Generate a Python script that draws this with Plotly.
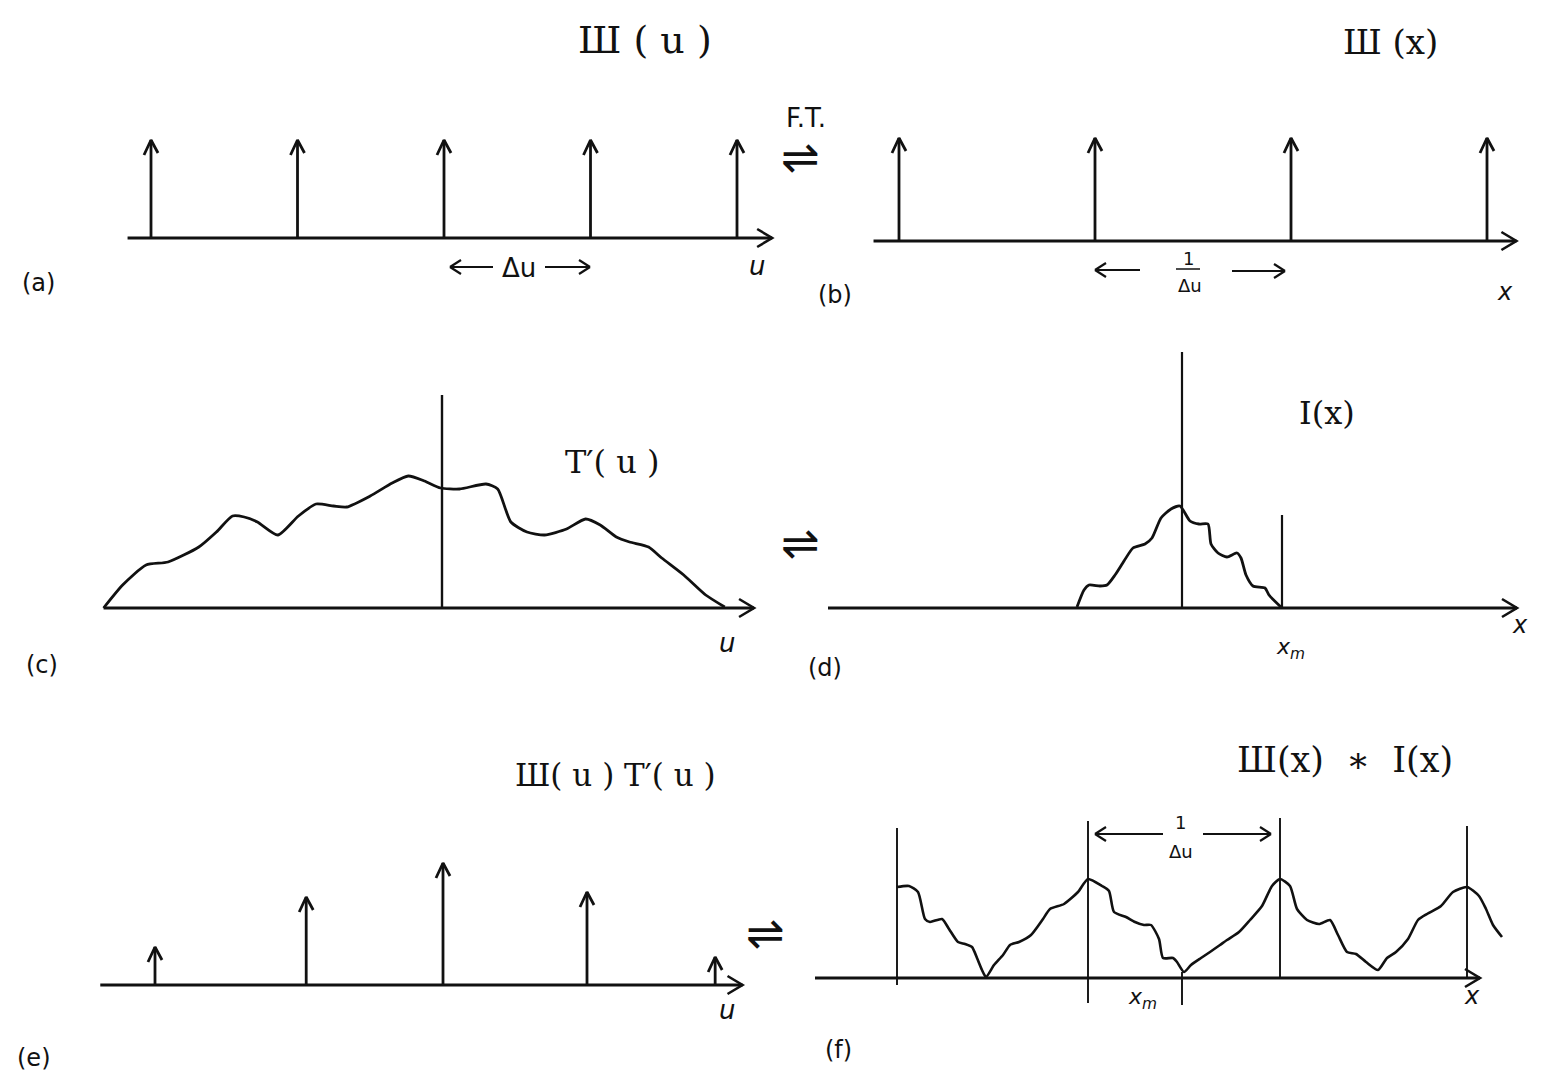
import plotly.graph_objects as go

W, H = 1549, 1076

# ---------------- data ----------------
# (a) comb III(u): positions in units of Δu, unit heights
comb_a_u = [-2, -1, 0, 1, 2]
comb_a_h = [1, 1, 1, 1, 1]

# (b) comb III(x): positions in units of 1/Δu
comb_b_x = [-1, 0, 1, 2]
comb_b_h = [1, 1, 1, 1]

# (c) spectrum T'(u)
t_u = [-2.31, -2.18, -2.02, -1.87, -1.66, -1.54, -1.43, -1.35, -1.26, -1.12,
       -0.98, -0.86, -0.74, -0.65, -0.49, -0.34, -0.23, -0.12, -0.01, 0.12,
       0.30, 0.38, 0.47, 0.58, 0.70, 0.85, 0.98, 1.08, 1.19, 1.28,
       1.41, 1.50, 1.65, 1.80, 1.93]
t_val = [0.00, 0.23, 0.43, 0.46, 0.61, 0.76, 0.92, 0.91, 0.86, 0.73,
         0.92, 1.04, 1.02, 1.01, 1.12, 1.25, 1.32, 1.27, 1.20, 1.19,
         1.24, 1.19, 0.86, 0.76, 0.73, 0.79, 0.89, 0.83, 0.71, 0.66,
         0.61, 0.50, 0.33, 0.13, 0.01]
c_axis_line_u = [0]
c_axis_line_h = [2.13]

# (d) interferogram I(x)
i_x = [-1.05, -0.98, -0.93, -0.82, -0.75, -0.67, -0.58, -0.49, -0.37, -0.30,
       -0.21, -0.11, -0.02, 0.08, 0.17, 0.26, 0.29, 0.36, 0.45, 0.55,
       0.59, 0.64, 0.71, 0.83, 0.87, 1.00]
i_val = [0.01, 0.18, 0.23, 0.22, 0.23, 0.33, 0.47, 0.60, 0.64, 0.70,
         0.90, 0.99, 1.02, 0.87, 0.84, 0.84, 0.64, 0.55, 0.51, 0.55,
         0.50, 0.33, 0.22, 0.20, 0.13, 0.00]
d_lines_x = [0, 1.0]
d_lines_h = [2.56, 0.93]

# (e) sampled spectrum III(u)T'(u)
comb_e_u = [-2.0, -0.95, 0, 1.0, 1.89]
comb_e_h = [0.38, 0.88, 1.22, 0.93, 0.28]

# (f) aliased interferogram III(x) * I(x)
f_x = [-1.91, -1.79, -1.70, -1.63, -1.58, -1.46, -1.39, -1.30, -1.23, -1.16,
       -1.11, -1.06, -1.02, -0.94, -0.85, -0.78, -0.69, -0.57, -0.45, -0.38,
       -0.24, -0.10, 0.00, 0.14, 0.21, 0.26, 0.38, 0.47, 0.56, 0.63,
       0.71, 0.75, 0.85, 0.89, 0.96, 1.03, 1.13, 1.22, 1.32, 1.39,
       1.51, 1.62, 1.74, 1.84, 1.92, 2.02, 2.09, 2.19, 2.31, 2.42,
       2.50, 2.59, 2.68, 2.78, 2.90, 2.99, 3.08, 3.20, 3.30, 3.39,
       3.53, 3.65, 3.79, 3.91, 3.98, 4.05, 4.14]
f_val = [0.91, 0.92, 0.86, 0.59, 0.56, 0.59, 0.49, 0.36, 0.34, 0.31,
         0.20, 0.08, 0.01, 0.13, 0.23, 0.33, 0.36, 0.43, 0.59, 0.69,
         0.74, 0.86, 0.99, 0.92, 0.87, 0.66, 0.61, 0.56, 0.53, 0.53,
         0.39, 0.20, 0.20, 0.16, 0.06, 0.13, 0.20, 0.26, 0.33, 0.38,
         0.46, 0.58, 0.72, 0.92, 0.99, 0.92, 0.69, 0.58, 0.54, 0.58,
         0.43, 0.26, 0.24, 0.16, 0.08, 0.20, 0.26, 0.39, 0.58, 0.64,
         0.72, 0.86, 0.91, 0.82, 0.69, 0.53, 0.41]
f_lines_x = [-1.91, 0, 1.92, 3.79]
f_lines_top = [1.50, 1.57, 1.60, 1.52]
f_lines_bottom = [-0.07, -0.25, 0.0, 0.0]
xm_tick_x = [0.94]
xm_tick_range = [-0.27, 0.06]

# ---------------- layout of the six panels (pixel boxes) ----------------
panels = {
    1: dict(box=(0, 0, 775, 310), origin=(444, 238), scale=(146.5, 98), axis=(-2.16, 2.24)),
    2: dict(box=(775, 0, 1549, 310), origin=(1095, 241), scale=(196, 103), axis=(-1.13, 2.15)),
    3: dict(box=(0, 310, 775, 690), origin=(442, 608), scale=(146.5, 100), axis=(-2.31, 2.13)),
    4: dict(box=(775, 310, 1549, 690), origin=(1182, 608), scale=(100, 100), axis=(-3.54, 3.35)),
    5: dict(box=(0, 690, 775, 1076), origin=(443, 985), scale=(144, 100), axis=(-2.38, 2.08)),
    6: dict(box=(775, 690, 1549, 1076), origin=(1088, 978), scale=(100, 100), axis=(-2.73, 3.92)),
}

fig = go.Figure()
INK = "#111111"


def ax_names(i):
    return ("x" if i == 1 else f"x{i}", "y" if i == 1 else f"y{i}")


layout_axes = {}
for i, p in panels.items():
    x0, y0, x1, y1 = p["box"]
    ox, oy = p["origin"]
    sx, sy = p["scale"]
    xa, ya = ax_names(i)
    layout_axes["xaxis" if i == 1 else f"xaxis{i}"] = dict(
        domain=[x0 / W, x1 / W], range=[(x0 - ox) / sx, (x1 - ox) / sx],
        visible=False, anchor=ya, fixedrange=True)
    layout_axes["yaxis" if i == 1 else f"yaxis{i}"] = dict(
        domain=[1 - y1 / H, 1 - y0 / H], range=[(oy - y1) / sy, (oy - y0) / sy],
        visible=False, anchor=xa, fixedrange=True)


def add_line(i, xs, ys, width=2.5, shape="linear"):
    xa, ya = ax_names(i)
    fig.add_trace(go.Scatter(x=xs, y=ys, mode="lines", xaxis=xa, yaxis=ya,
                             line=dict(color=INK, width=width, shape=shape,
                                       smoothing=0.6 if shape == "spline" else None),
                             showlegend=False, hoverinfo="skip"))


def add_axis(i, width=3.2):
    sx, sy = panels[i]["scale"]
    a0, a1 = panels[i]["axis"]
    add_line(i, [a0, a1], [0, 0], width=width)
    add_line(i, [a1 - 15 / sx, a1, a1 - 15 / sx], [9 / sy, 0, -9 / sy], width=width - 0.6)


def add_spikes(i, xs, hs, head=True, width=2.8, bottoms=None):
    sx, sy = panels[i]["scale"]
    lx, ly = [], []
    for k, (x, h) in enumerate(zip(xs, hs)):
        b = bottoms[k] if bottoms else 0
        lx += [x, x, None]
        ly += [b, h, None]
        if head:
            lx += [x - 7 / sx, x, x + 7 / sx, None]
            ly += [h - 15 / sy, h, h - 13 / sy, None]
    add_line(i, lx, ly, width=width)


# (a)
add_axis(1)
add_spikes(1, comb_a_u, comb_a_h)
# (b)
add_axis(2)
add_spikes(2, comb_b_x, comb_b_h)
# (c)
add_axis(3)
add_spikes(3, c_axis_line_u, c_axis_line_h, head=False, width=2.4)
add_line(3, t_u, t_val, width=2.8, shape="spline")
# (d)
add_axis(4)
add_spikes(4, d_lines_x, d_lines_h, head=False, width=2.2)
add_line(4, i_x, i_val, width=2.8, shape="spline")
# (e)
add_axis(5)
add_spikes(5, comb_e_u, comb_e_h)
# (f)
add_axis(6)
add_spikes(6, f_lines_x, f_lines_top, head=False, width=1.9, bottoms=f_lines_bottom)
add_spikes(6, xm_tick_x, [xm_tick_range[1]], head=False, width=1.9, bottoms=[xm_tick_range[0]])
add_line(6, f_x, f_val, width=2.6, shape="spline")

# ---------------- text and dimension arrows (pixel positions) ----------------
FONT = "DejaVu Sans"
MATH = "DejaVu Serif"
annotations = []


def label(text, x, y, size=24, italic=False, family=FONT):
    if italic:
        text = f"<i>{text}</i>"
    annotations.append(dict(text=text, x=x / W, y=1 - y / H, xref="paper", yref="paper",
                            showarrow=False, xanchor="center", yanchor="middle",
                            font=dict(family=family, size=size, color=INK)))


shapes = []


def seg(x0, y0, x1, y1, w=2.2):
    shapes.append(dict(type="line", xref="paper", yref="paper",
                       x0=x0 / W, y0=1 - y0 / H, x1=x1 / W, y1=1 - y1 / H,
                       line=dict(color=INK, width=w)))


def dim_arrow(tail, tip, y):
    seg(tail, y, tip, y)
    d = 11 if tip > tail else -11
    seg(tip - d, y - 7, tip, y)
    seg(tip - d, y + 7, tip, y)


# titles
label("Ш ( u )", 645, 40, size=38, family=MATH)
label("Ш (x)", 1390, 42, size=34, family=MATH)
label("F.T.", 806, 118, size=26)
label("⇌", 800, 157, size=46)
label("⇌", 800, 543, size=46)
label("⇌", 765, 933, size=46)

# (a)
dim_arrow(493, 450, 267)
dim_arrow(545, 590, 267)
label("Δu", 519, 268, size=26)
label("u", 757, 266, size=26, italic=True)
label("(a)", 38, 283, size=24)

# (b)
dim_arrow(1140, 1095, 270)
dim_arrow(1232, 1285, 271)
label("1", 1188, 258, size=18)
seg(1176, 269, 1200, 269, w=1.5)
label("Δu", 1190, 285, size=18)
label("x", 1505, 292, size=24, italic=True)
label("(b)", 835, 295, size=24)

# (c)
label("T′( u )", 612, 462, size=32, family=MATH)
label("u", 727, 643, size=26, italic=True)
label("(c)", 42, 665, size=24)

# (d)
label("I(x)", 1327, 413, size=32, family=MATH)
label("x<sub>m</sub>", 1290, 648, size=22, italic=True)
label("x", 1520, 625, size=24, italic=True)
label("(d)", 825, 668, size=24)

# (e)
label("Ш( u ) T′( u )", 615, 775, size=31, family=MATH)
label("u", 727, 1010, size=26, italic=True)
label("(e)", 34, 1058, size=24)

# (f)
label("Ш(x)  ∗  I(x)", 1345, 760, size=35, family=MATH)
dim_arrow(1163, 1095, 834)
dim_arrow(1203, 1271, 834)
label("1", 1180, 822, size=18)
label("Δu", 1181, 851, size=18)
label("x<sub>m</sub>", 1142, 998, size=22, italic=True)
label("x", 1472, 996, size=24, italic=True)
label("(f)", 838, 1050, size=24)

fig.update_layout(
    width=W, height=H, margin=dict(l=0, r=0, t=0, b=0),
    paper_bgcolor="white", plot_bgcolor="rgba(0,0,0,0)",
    showlegend=False, annotations=annotations, shapes=shapes,
    **layout_axes,
)

fig.write_html("out.html", config=dict(displayModeBar=False, responsive=False),
               post_script="document.body.style.margin='0';")
